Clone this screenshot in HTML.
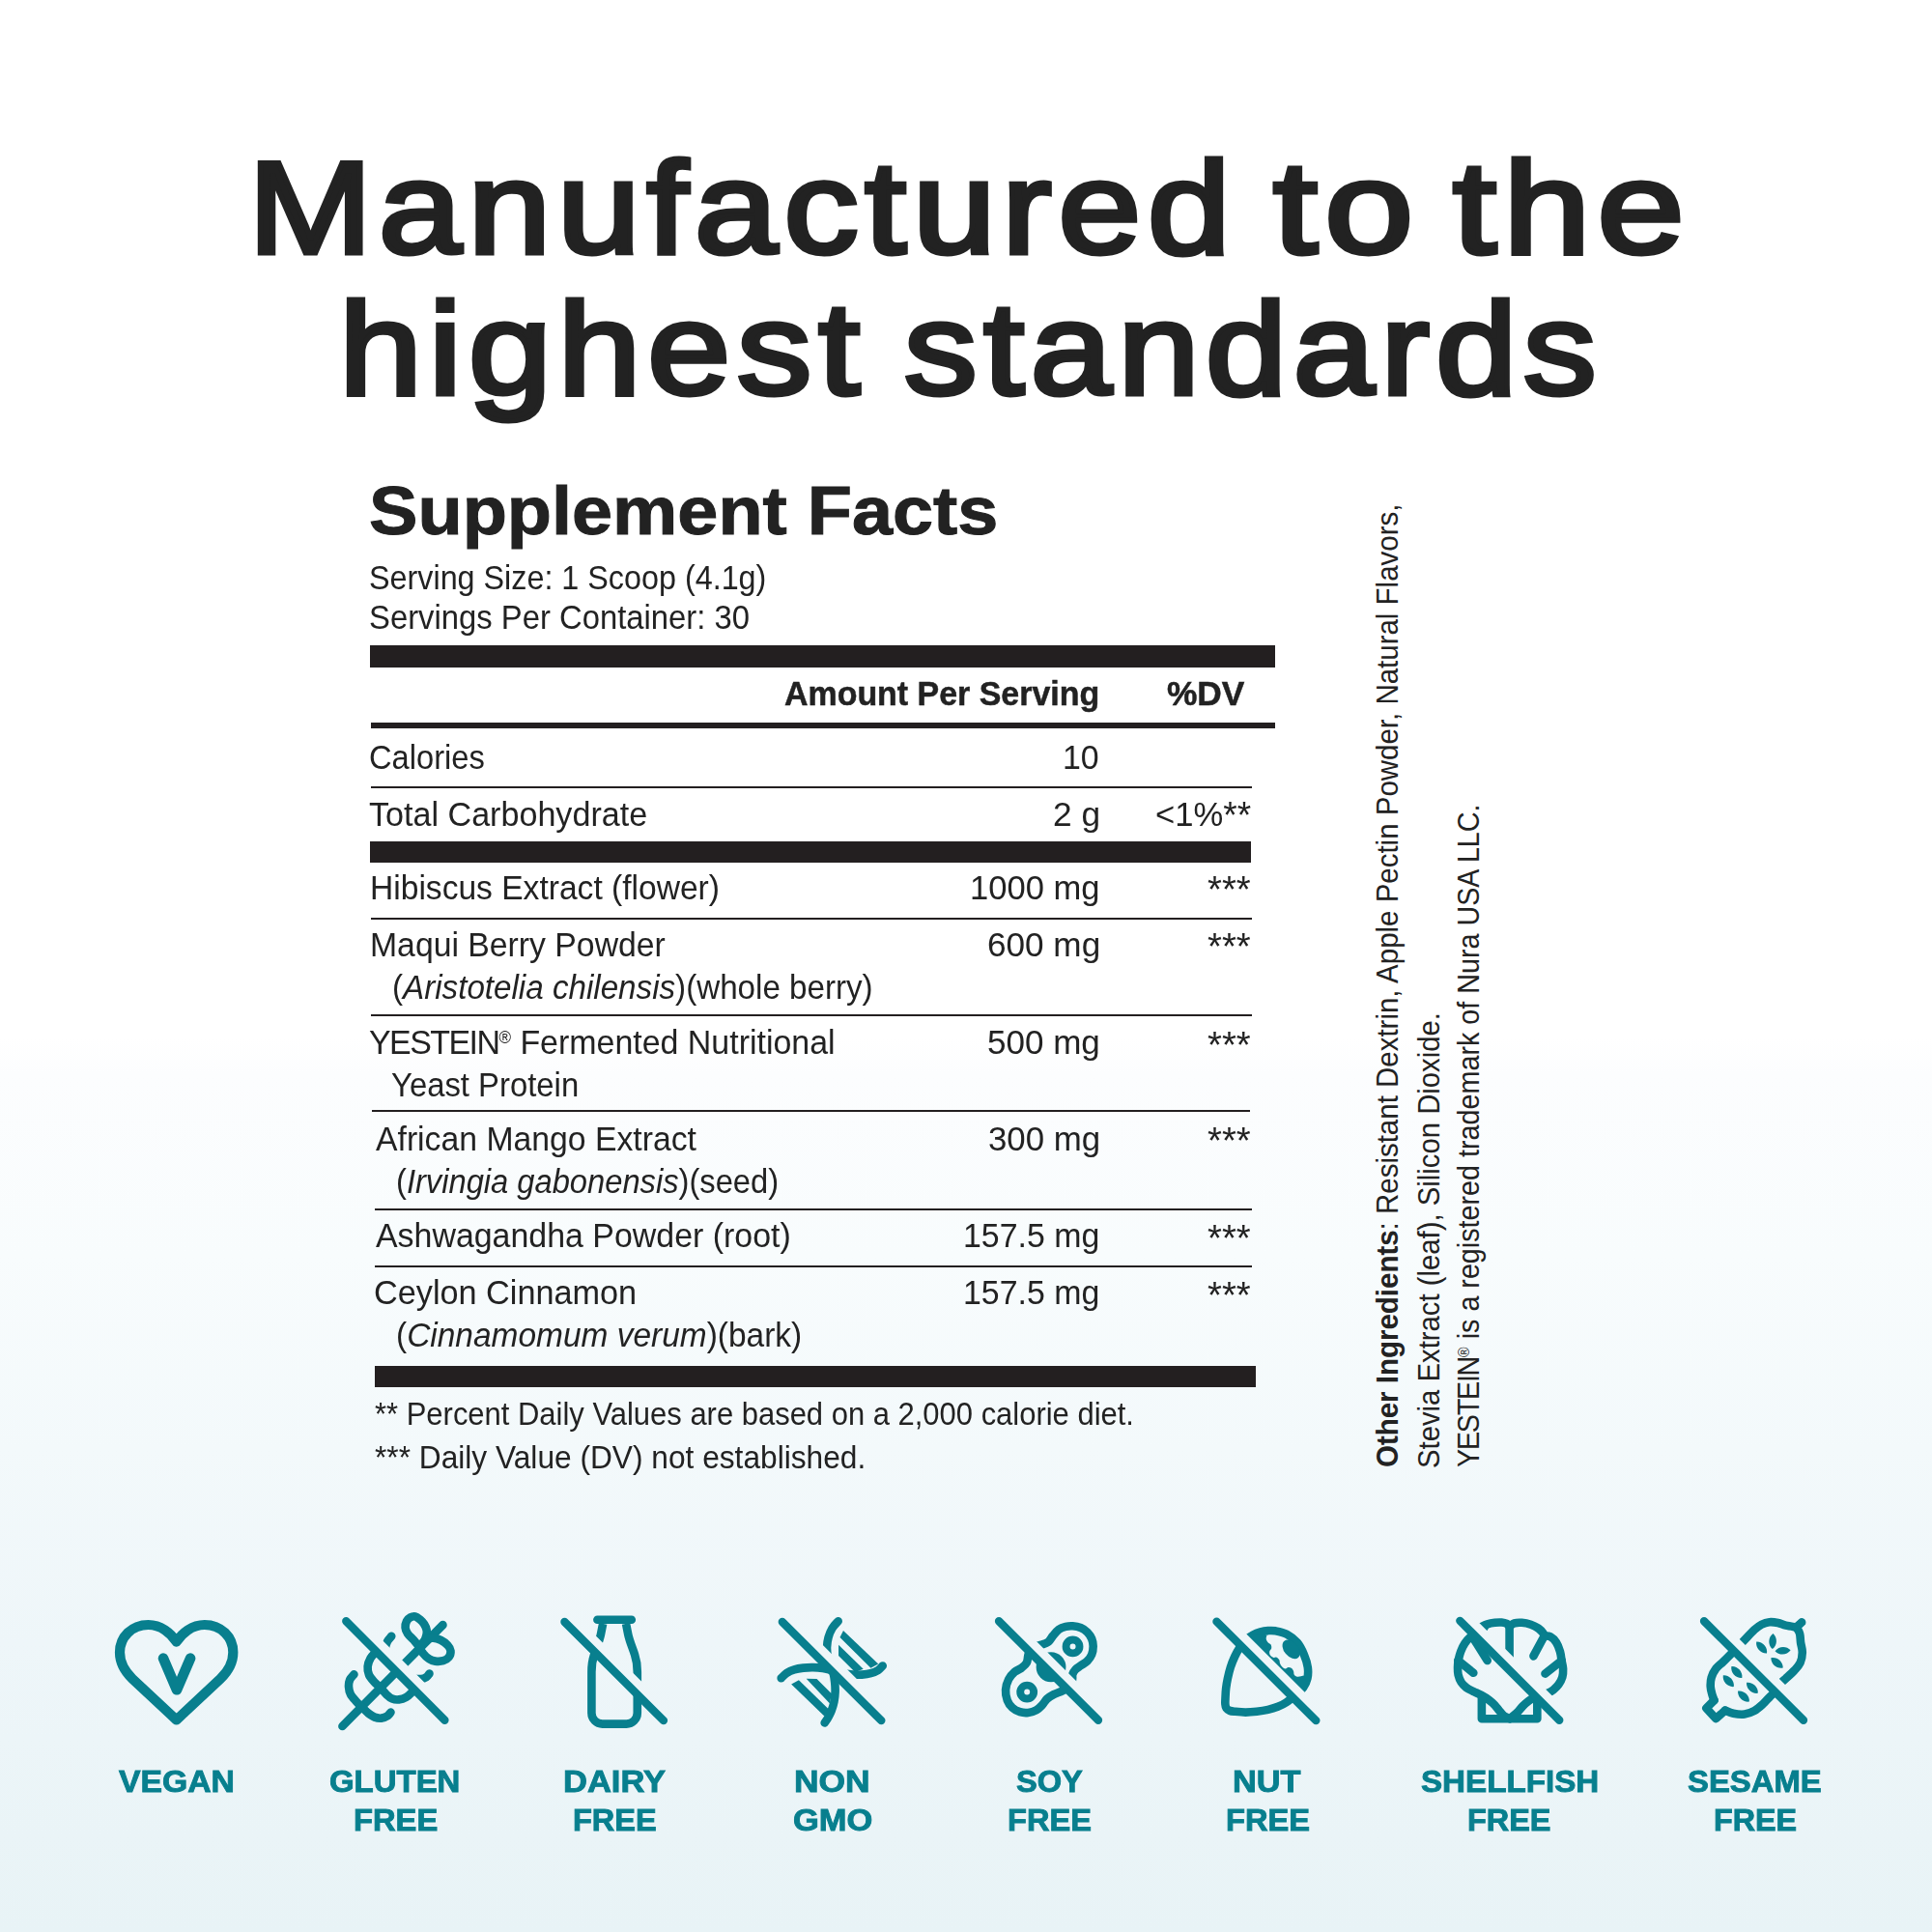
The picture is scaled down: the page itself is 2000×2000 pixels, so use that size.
<!DOCTYPE html>
<html lang="en">
<head>
<meta charset="utf-8">
<title>Manufactured to the highest standards</title>
<style>
html,body{margin:0;padding:0}
body{width:2000px;height:2000px;position:relative;overflow:hidden;
 background:linear-gradient(to bottom,#ffffff 0px,#ffffff 1075px,#fcfdfe 1112px,#f8fcfd 1300px,#f3f9fb 1500px,#eef6f9 1700px,#eaf4f7 1900px,#e8f3f6 2000px);
 font-family:"Liberation Sans",sans-serif;color:#222222}
.t{position:absolute;white-space:nowrap;line-height:1;transform-origin:0 0;font-family:"Liberation Sans",sans-serif}
.b{position:absolute;background:#231f20}
i{font-style:italic}
sup.r{font-size:.5em;vertical-align:baseline;position:relative;top:-.62em;line-height:0}
svg{position:absolute;left:0;top:0}
</style>
</head>
<body>
<!-- rules -->
<div class="b" style="left:383px;top:668.1px;width:937px;height:22.7px"></div>
<div class="b" style="left:383.5px;top:748.3px;width:936.5px;height:6px"></div>
<div class="b" style="left:383.5px;top:813.5px;width:912px;height:2px"></div>
<div class="b" style="left:383px;top:871.1px;width:912.4px;height:21.7px"></div>
<div class="b" style="left:383.5px;top:950px;width:912px;height:2px"></div>
<div class="b" style="left:383.5px;top:1050px;width:912px;height:2px"></div>
<div class="b" style="left:385px;top:1149px;width:909px;height:2.2px"></div>
<div class="b" style="left:388px;top:1250.5px;width:908px;height:2px"></div>
<div class="b" style="left:388px;top:1310px;width:908px;height:2px"></div>
<div class="b" style="left:388px;top:1413.8px;width:911.9px;height:21.9px"></div>
<span class="t" style="left:257.01px;top:146.88px;font-size:136px;-webkit-text-stroke:5px #222;letter-spacing:6px;transform:scaleX(1.1325)">Manufactured</span>
<span class="t" style="left:1318.00px;top:146.88px;font-size:136px;-webkit-text-stroke:5px #222;letter-spacing:6px;transform:scaleX(1.2138)">to</span>
<span class="t" style="left:1503.80px;top:146.88px;font-size:136px;-webkit-text-stroke:5px #222;letter-spacing:6px;transform:scaleX(1.1914)">the</span>
<span class="t" style="left:350.55px;top:293.08px;font-size:136px;-webkit-text-stroke:5px #222;letter-spacing:6px;transform:scaleX(1.1360)">highest</span>
<span class="t" style="left:935.99px;top:293.08px;font-size:136px;-webkit-text-stroke:5px #222;letter-spacing:6px;transform:scaleX(1.1104)">standards</span>
<span class="t" style="left:381.84px;top:493.64px;font-size:70px;font-weight:bold;-webkit-text-stroke:1px #222;transform:scaleX(1.0803)">Supplement Facts</span>
<span class="t" style="left:382.18px;top:581.45px;font-size:35.5px;transform:scaleX(0.9103)">Serving Size: 1 Scoop (4.1g)</span>
<span class="t" style="left:382.15px;top:621.65px;font-size:35.5px;transform:scaleX(0.9243)">Servings Per Container: 30</span>
<span class="t" style="left:812.43px;top:700.07px;font-size:35px;font-weight:bold;-webkit-text-stroke:.5px #222;transform:scaleX(0.9694)">Amount Per Serving</span>
<span class="t" style="left:1208.39px;top:700.07px;font-size:35px;font-weight:bold;-webkit-text-stroke:.5px #222;transform:scaleX(1.0076)">%DV</span>
<span class="t" style="left:382.16px;top:766.65px;font-size:35.5px;transform:scaleX(0.9197)">Calories</span>
<span class="t" style="left:1099.94px;top:766.65px;font-size:35.5px;transform:scaleX(0.9543)">10</span>
<span class="t" style="left:382.24px;top:825.95px;font-size:35.5px;transform:scaleX(0.9607)">Total Carbohydrate</span>
<span class="t" style="left:1089.51px;top:825.95px;font-size:35.5px;transform:scaleX(0.9933)">2 g</span>
<span class="t" style="left:1195.85px;top:826.35px;font-size:35.5px;transform:scaleX(0.9747)">&lt;1%<span style="font-size:38px;position:relative;top:1.8px;line-height:0">**</span></span>
<span class="t" style="left:383.16px;top:902.45px;font-size:35.5px;transform:scaleX(0.9459)">Hibiscus Extract (flower)</span>
<span class="t" style="left:1004.08px;top:901.85px;font-size:35.5px;transform:scaleX(0.9729)">1000 mg</span>
<span class="t" style="left:382.95px;top:960.85px;font-size:35.5px;transform:scaleX(0.9509)">Maqui Berry Powder</span>
<span class="t" style="left:1021.62px;top:960.85px;font-size:35.5px;transform:scaleX(0.9895)">600 mg</span>
<span class="t" style="left:405.73px;top:1005.15px;font-size:35.5px;transform:scaleX(0.9343)">(<i>Aristotelia chilensis</i>)(whole berry)</span>
<span class="t" style="left:382.44px;top:1062.15px;font-size:35.5px;transform:scaleX(0.9556)"><span style="letter-spacing:-1.6px">YESTEIN</span><sup class="r">&reg;</sup> Fermented Nutritional</span>
<span class="t" style="left:1022.03px;top:1062.15px;font-size:35.5px;transform:scaleX(0.9860)">500 mg</span>
<span class="t" style="left:404.57px;top:1105.85px;font-size:35.5px;transform:scaleX(0.9251)">Yeast Protein</span>
<span class="t" style="left:389.10px;top:1161.65px;font-size:35.5px;transform:scaleX(0.9504)">African Mango Extract</span>
<span class="t" style="left:1023.04px;top:1161.65px;font-size:35.5px;transform:scaleX(0.9807)">300 mg</span>
<span class="t" style="left:409.96px;top:1206.15px;font-size:35.5px;transform:scaleX(0.9207)">(<i>Irvingia gabonensis</i>)(seed)</span>
<span class="t" style="left:389.10px;top:1262.15px;font-size:35.5px;transform:scaleX(0.9551)">Ashwagandha Powder (root)</span>
<span class="t" style="left:997.44px;top:1262.15px;font-size:35.5px;transform:scaleX(0.9545)">157.5 mg</span>
<span class="t" style="left:386.57px;top:1321.15px;font-size:35.5px;transform:scaleX(0.9644)">Ceylon Cinnamon</span>
<span class="t" style="left:997.44px;top:1321.15px;font-size:35.5px;transform:scaleX(0.9545)">157.5 mg</span>
<span class="t" style="left:409.91px;top:1365.15px;font-size:35.5px;transform:scaleX(0.9425)">(<i>Cinnamomum verum</i>)(bark)</span>
<span class="t" style="left:1250.19px;top:902.33px;font-size:38px;transform:scaleX(1.0070)">***</span>
<span class="t" style="left:1250.19px;top:961.33px;font-size:38px;transform:scaleX(1.0070)">***</span>
<span class="t" style="left:1250.19px;top:1062.63px;font-size:38px;transform:scaleX(1.0070)">***</span>
<span class="t" style="left:1250.19px;top:1162.13px;font-size:38px;transform:scaleX(1.0070)">***</span>
<span class="t" style="left:1250.19px;top:1262.63px;font-size:38px;transform:scaleX(1.0070)">***</span>
<span class="t" style="left:1250.19px;top:1321.63px;font-size:38px;transform:scaleX(1.0070)">***</span>
<span class="t" style="left:388.16px;top:1447.27px;font-size:33px;transform:scaleX(0.9382)">** Percent Daily Values are based on a 2,000 calorie diet.</span>
<span class="t" style="left:388.14px;top:1491.57px;font-size:33px;transform:scaleX(0.9598)">*** Daily Value (DV) not established.</span>
<span class="t" style="left:1419.91px;top:1518.92px;font-size:32px;transform:rotate(-90deg) scaleX(0.9209)"><b>Other Ingredients</b>: Resistant Dextrin, Apple Pectin Powder, Natural Flavors,</span>
<span class="t" style="left:1462.51px;top:1519.83px;font-size:32px;transform:rotate(-90deg) scaleX(0.9151)">Stevia Extract (leaf), Silicon Dioxide.</span>
<span class="t" style="left:1503.91px;top:1518.90px;font-size:32px;transform:rotate(-90deg) scaleX(0.8975)"><span style="letter-spacing:-1.4px">YESTEIN</span><sup class="r">&reg;</sup> is a registered trademark of Nura USA LLC.</span>
<span class="t" style="left:123.30px;top:1829.14px;font-size:31.5px;font-weight:bold;color:#087f8e;-webkit-text-stroke:.9px #087f8e;transform:scaleX(1.0700)">VEGAN</span>
<span class="t" style="left:341.45px;top:1829.14px;font-size:31.5px;font-weight:bold;color:#087f8e;-webkit-text-stroke:.9px #087f8e;transform:scaleX(1.0457)">GLUTEN</span>
<span class="t" style="left:365.82px;top:1868.74px;font-size:31.5px;font-weight:bold;color:#087f8e;-webkit-text-stroke:.9px #087f8e;transform:scaleX(1.0383)">FREE</span>
<span class="t" style="left:583.11px;top:1829.14px;font-size:31.5px;font-weight:bold;color:#087f8e;-webkit-text-stroke:.9px #087f8e;transform:scaleX(1.0957)">DAIRY</span>
<span class="t" style="left:592.84px;top:1868.74px;font-size:31.5px;font-weight:bold;color:#087f8e;-webkit-text-stroke:.9px #087f8e;transform:scaleX(1.0321)">FREE</span>
<span class="t" style="left:821.95px;top:1829.14px;font-size:31.5px;font-weight:bold;color:#087f8e;-webkit-text-stroke:.9px #087f8e;transform:scaleX(1.1242)">NON</span>
<span class="t" style="left:820.51px;top:1868.74px;font-size:31.5px;font-weight:bold;color:#087f8e;-webkit-text-stroke:.9px #087f8e;transform:scaleX(1.0945)">GMO</span>
<span class="t" style="left:1052.16px;top:1829.14px;font-size:31.5px;font-weight:bold;color:#087f8e;-webkit-text-stroke:.9px #087f8e;transform:scaleX(1.0354)">SOY</span>
<span class="t" style="left:1043.43px;top:1868.74px;font-size:31.5px;font-weight:bold;color:#087f8e;-webkit-text-stroke:.9px #087f8e;transform:scaleX(1.0346)">FREE</span>
<span class="t" style="left:1276.22px;top:1829.14px;font-size:31.5px;font-weight:bold;color:#087f8e;-webkit-text-stroke:.9px #087f8e;transform:scaleX(1.0889)">NUT</span>
<span class="t" style="left:1268.53px;top:1868.74px;font-size:31.5px;font-weight:bold;color:#087f8e;-webkit-text-stroke:.9px #087f8e;transform:scaleX(1.0358)">FREE</span>
<span class="t" style="left:1470.55px;top:1829.14px;font-size:31.5px;font-weight:bold;color:#087f8e;-webkit-text-stroke:.9px #087f8e;transform:scaleX(1.0529)">SHELLFISH</span>
<span class="t" style="left:1519.44px;top:1868.74px;font-size:31.5px;font-weight:bold;color:#087f8e;-webkit-text-stroke:.9px #087f8e;transform:scaleX(1.0296)">FREE</span>
<span class="t" style="left:1746.96px;top:1829.14px;font-size:31.5px;font-weight:bold;color:#087f8e;-webkit-text-stroke:.9px #087f8e;transform:scaleX(1.0427)">SESAME</span>
<span class="t" style="left:1773.65px;top:1868.74px;font-size:31.5px;font-weight:bold;color:#087f8e;-webkit-text-stroke:.9px #087f8e;transform:scaleX(1.0247)">FREE</span>
<svg width="2000" height="2000" viewBox="0 0 2000 2000" fill="none" stroke="#087f8e" stroke-width="8.6" stroke-linecap="round" stroke-linejoin="round"><defs><mask id="m2" maskUnits="userSpaceOnUse" x="325" y="1650" width="170" height="160"><rect x="325" y="1650" width="170" height="160" fill="#fff"/><line x1="358.52" y1="1669.55" x2="469.09" y2="1780.53" stroke="#000" stroke-width="12.6"/></mask><mask id="m3" maskUnits="userSpaceOnUse" x="550" y="1650" width="170" height="160"><rect x="550" y="1650" width="170" height="160" fill="#fff"/><line x1="584.65" y1="1670.32" x2="695.64" y2="1780.89" stroke="#000" stroke-width="12.6"/></mask><mask id="m4" maskUnits="userSpaceOnUse" x="775" y="1650" width="170" height="160"><rect x="775" y="1650" width="170" height="160" fill="#fff"/><line x1="810.04" y1="1670.32" x2="921.03" y2="1780.89" stroke="#000" stroke-width="12.6"/></mask><mask id="m5" maskUnits="userSpaceOnUse" x="1000" y="1650" width="170" height="160"><rect x="1000" y="1650" width="170" height="160" fill="#fff"/><line x1="1034.26" y1="1669.55" x2="1145.64" y2="1780.5" stroke="#000" stroke-width="12.6"/></mask><mask id="m6" maskUnits="userSpaceOnUse" x="1225" y="1650" width="170" height="160"><rect x="1225" y="1650" width="170" height="160" fill="#fff"/><line x1="1259.65" y1="1669.94" x2="1371.03" y2="1780.89" stroke="#000" stroke-width="12.6"/></mask><mask id="m7" maskUnits="userSpaceOnUse" x="1480" y="1650" width="170" height="160"><rect x="1480" y="1650" width="170" height="160" fill="#fff"/><line x1="1511.56" y1="1669.16" x2="1622.92" y2="1780.52" stroke="#000" stroke-width="12.6"/></mask><mask id="m8" maskUnits="userSpaceOnUse" x="1730" y="1650" width="170" height="160"><rect x="1730" y="1650" width="170" height="160" fill="#fff"/><line x1="1764.26" y1="1669.55" x2="1875.64" y2="1780.5" stroke="#000" stroke-width="12.6"/></mask></defs><path d="M182.65 1699.6 C177 1690.5 166.5 1682 153.5 1682 C136.5 1682 124 1694.5 124 1710.5 C124 1722.5 129.5 1730.5 137 1737.8 L182.65 1780.4 L228.3 1737.8 C235.8 1730.5 241.3 1722.5 241.3 1710.5 C241.3 1694.5 228.8 1682 211.8 1682 C198.8 1682 188.3 1690.5 182.65 1699.6Z" stroke-width="10.2"/>
<path d="M169 1716.6L183 1749.3L197.1 1716.6" stroke-width="10.6"/>
<g mask="url(#m2)"><path d="M354.41 1786.94L458.45 1682.13"/><path d="M366.44 1733.37C365.73 1734.28 363.08 1736.67 362.17 1738.8C361.27 1740.94 360.88 1743.66 361.01 1746.18C361.14 1748.7 361.66 1751.42 362.95 1753.94C364.24 1756.47 366.7 1758.99 368.77 1761.32C370.84 1763.65 373.24 1765.85 375.37 1767.92C377.51 1769.99 379.51 1772.12 381.58 1773.74C383.65 1775.36 385.6 1776.81 387.8 1777.62C389.99 1778.44 392.58 1778.83 394.78 1778.63C396.98 1778.44 399.38 1777.47 400.99 1776.46C402.61 1775.45 403.91 1773.22 404.49 1772.58"/><path d="M389.35 1709.69C388.38 1710.85 384.97 1714.09 383.52 1716.68C382.08 1719.27 380.91 1722.37 380.65 1725.22C380.39 1728.06 380.85 1731.11 381.97 1733.76C383.1 1736.41 385.4 1738.87 387.41 1741.13C389.41 1743.4 391.87 1745.14 394.01 1747.34C396.14 1749.54 398.21 1752.46 400.22 1754.33C402.22 1756.21 403.91 1757.76 406.04 1758.6C408.18 1759.44 410.63 1759.64 413.03 1759.38C415.42 1759.12 418.2 1758.28 420.4 1757.05C422.6 1755.82 424.54 1753.69 426.23 1752C427.91 1750.32 429.79 1747.8 430.5 1746.96"/><path d="M405.26 1693.77C404.55 1694.68 402.03 1697.2 400.99 1699.21C399.96 1701.21 399.18 1703.41 399.05 1705.81C398.92 1708.2 399.12 1711.18 400.22 1713.57C401.32 1715.97 403.26 1718.04 405.65 1720.17C408.05 1722.31 411.99 1724.18 414.58 1726.38C417.17 1728.58 418.92 1731.56 421.18 1733.37C423.44 1735.18 425.71 1736.48 428.17 1737.25C430.63 1738.03 433.73 1738.22 435.93 1738.03C438.13 1737.83 439.94 1736.99 441.37 1736.09C442.79 1735.18 443.95 1733.18 444.47 1732.59"/><path d="M434.81 1704.72C433.02 1704.44 430.33 1699.96 428.19 1697.68C426.05 1695.4 423.41 1693.2 421.98 1691.06C420.54 1688.92 419.75 1686.98 419.58 1684.84C419.4 1682.71 420.06 1679.98 420.94 1678.22C421.83 1676.46 423.39 1675.1 424.88 1674.29C426.36 1673.47 428.19 1672.95 429.84 1673.33C431.5 1673.71 433.26 1675.23 434.81 1676.56C436.37 1677.9 438.02 1679.53 439.16 1681.33C440.3 1683.12 441.27 1685.43 441.65 1687.33C442.03 1689.23 441.89 1690.71 441.44 1692.71C440.99 1694.71 440.06 1697.34 438.95 1699.34C437.85 1701.34 436.61 1705 434.81 1704.72Z"/><path d="M434.81 1704.72C434.26 1707.14 436.54 1709.65 438.13 1711.76C439.71 1713.86 442.27 1716.04 444.34 1717.35C446.41 1718.66 448.13 1719.32 450.55 1719.63C452.96 1719.94 456.48 1719.9 458.83 1719.21C461.18 1718.52 463.35 1717.21 464.63 1715.49C465.9 1713.76 466.7 1710.93 466.49 1708.86C466.28 1706.79 465.08 1704.89 463.39 1703.06C461.69 1701.24 458.83 1699.13 456.35 1697.89C453.86 1696.65 450.96 1695.71 448.48 1695.61C445.99 1695.51 443.72 1695.75 441.44 1697.27C439.16 1698.79 435.37 1702.31 434.81 1704.72Z"/></g>
<line x1="358.29" y1="1678.25" x2="460.39" y2="1780.73" stroke-width="8.4"/>
<g mask="url(#m3)"><path d="M624.13 1680.96 L621.96 1691.83 C620.56 1698.82 617.07 1706.58 615.12 1712.8 C613.57 1717.45 612.41 1722.11 612.41 1730.65 L612.41 1773.35 A11.26 11.26 0 0 0 623.66 1784.61 L648.51 1784.61 A11.26 11.26 0 0 0 659.77 1773.35 L659.77 1730.65 C659.77 1722.11 658.6 1717.45 657.05 1712.8 C655.11 1706.58 651.61 1698.82 650.22 1691.83 L648.04 1680.96" stroke-linecap="butt"/><path d="M618.39 1676.69L653.79 1676.69"/></g>
<line x1="584.46" y1="1679.02" x2="686.94" y2="1781.12" stroke-width="8.4"/>
<g mask="url(#m4)"><path d="M872.97 1687.95L909.22 1722.5L901.46 1726.77L869.47 1695.09Z" fill="#087f8e" stroke="none"/><path d="M868.07 1702.7L893.7 1727.7L885.16 1731.04L868.07 1714.11Z" fill="#087f8e" stroke="none"/><path d="M834.69 1737.64L845.56 1738.03L861.09 1753.56L858.76 1763.26Z" fill="#087f8e" stroke="none"/><path d="M826.93 1739.19L858.76 1770.25L853.32 1776.46L819.16 1743.46Z" fill="#087f8e" stroke="none"/><path d="M867.69 1678.25C866.65 1679.47 863.16 1682.84 861.48 1685.62C859.79 1688.4 858.5 1691.7 857.59 1694.94C856.69 1698.17 856.17 1701.8 856.04 1705.03C855.91 1708.27 856.23 1711.24 856.82 1714.35C857.4 1717.45 858.56 1720.69 859.53 1723.66C860.5 1726.64 861.86 1729.23 862.64 1732.2C863.42 1735.18 863.87 1738.29 864.19 1741.52C864.52 1744.76 864.71 1748.25 864.58 1751.61C864.45 1754.98 864.06 1758.47 863.42 1761.71C862.77 1764.94 861.73 1768.31 860.7 1771.02C859.66 1773.74 858.37 1775.94 857.2 1778.01C856.04 1780.08 854.29 1782.54 853.71 1783.45"/><path d="M808.68 1737.25C809.65 1736.35 812.24 1733.3 814.5 1731.82C816.77 1730.33 819.42 1729.19 822.27 1728.32C825.11 1727.46 828.35 1726.98 831.58 1726.61C834.82 1726.25 838.31 1726.1 841.68 1726.15C845.04 1726.2 848.79 1726.5 851.77 1726.93C854.75 1727.35 856.95 1728.03 859.53 1728.71C862.12 1729.4 864.84 1730.39 867.3 1731.04C869.76 1731.69 871.7 1732.17 874.29 1732.59C876.87 1733.02 879.85 1733.43 882.83 1733.6C885.8 1733.77 889.04 1733.84 892.14 1733.6C895.25 1733.37 898.68 1732.96 901.46 1732.2C904.24 1731.45 906.79 1730.39 908.84 1729.1C910.88 1727.81 912.91 1725.22 913.73 1724.44"/></g>
<line x1="809.84" y1="1679.02" x2="912.33" y2="1781.12" stroke-width="8.4"/>
<g mask="url(#m5)"><path d="M1078.32 1702.7C1080.65 1701.93 1083.37 1701.15 1085.31 1699.6C1087.25 1698.04 1088.16 1695.52 1089.97 1693.39C1091.78 1691.25 1093.98 1688.36 1096.18 1686.79C1098.38 1685.21 1100.77 1684.5 1103.17 1683.91C1105.56 1683.33 1107.96 1683.11 1110.54 1683.29C1113.13 1683.47 1116.17 1683.94 1118.7 1685C1121.22 1686.06 1123.77 1687.74 1125.68 1689.66C1127.6 1691.57 1129.19 1694.06 1130.19 1696.49C1131.18 1698.92 1131.66 1701.54 1131.66 1704.25C1131.66 1706.97 1131.18 1710.27 1130.19 1712.8C1129.19 1715.32 1127.6 1717.48 1125.68 1719.39C1123.77 1721.31 1120.77 1722.8 1118.7 1724.29C1116.63 1725.77 1114.66 1726.81 1113.26 1728.32C1111.86 1729.84 1110.83 1731.82 1110.31 1733.37C1109.79 1734.92 1110.38 1736.02 1110.16 1737.64C1109.94 1739.26 1109.9 1741.39 1108.99 1743.07C1108.08 1744.76 1106.47 1746.41 1104.72 1747.73C1102.97 1749.05 1100.84 1749.93 1098.51 1750.99C1096.18 1752.05 1093.2 1752.81 1090.75 1754.1C1088.29 1755.39 1085.7 1756.97 1083.76 1758.76C1081.82 1760.54 1080.91 1762.9 1079.1 1764.81C1077.29 1766.73 1075.35 1768.89 1072.89 1770.25C1070.43 1771.61 1067.19 1772.64 1064.35 1772.97C1061.5 1773.29 1058.52 1773.03 1055.81 1772.19C1053.09 1771.35 1050.22 1769.92 1048.04 1767.92C1045.87 1765.91 1043.93 1763.26 1042.76 1760.16C1041.6 1757.05 1040.82 1752.91 1041.06 1749.29C1041.29 1745.66 1042.61 1741.5 1044.16 1738.42C1045.71 1735.34 1048.17 1732.75 1050.37 1730.81C1052.57 1728.87 1055.29 1728.35 1057.36 1726.77C1059.43 1725.19 1061.63 1723.54 1062.8 1721.34C1063.96 1719.14 1063.77 1715.77 1064.35 1713.57C1064.93 1711.37 1065.12 1709.69 1066.29 1708.14C1067.45 1706.58 1069.33 1705.16 1071.34 1704.25C1073.34 1703.35 1075.99 1703.48 1078.32 1702.7Z"/><circle cx="1110.54" cy="1704.41" r="6.95" stroke-width="7.9"/><circle cx="1063.18" cy="1751.61" r="6.95" stroke-width="7.9"/><circle cx="1088.03" cy="1725.76" r="15.4" fill="#087f8e" stroke="none"/></g>
<line x1="1034.07" y1="1678.25" x2="1136.94" y2="1780.73" stroke-width="8.4"/>
<g mask="url(#m6)"><path d="M1320.4 1688.34C1323.64 1688.96 1328.3 1689.83 1332.05 1691.83C1335.8 1693.84 1339.94 1696.88 1342.92 1700.37C1345.9 1703.87 1348.1 1708.52 1349.91 1712.8C1351.72 1717.07 1353.21 1721.85 1353.79 1725.99C1354.37 1730.13 1354.18 1734.15 1353.4 1737.64C1352.62 1741.13 1351.14 1744.17 1349.13 1746.96C1347.12 1749.74 1344.34 1751.74 1341.37 1754.33C1338.39 1756.92 1334.38 1760.41 1331.27 1762.48C1328.17 1764.55 1325.84 1765.53 1322.73 1766.75C1319.63 1767.98 1316.26 1769.02 1312.64 1769.86C1309.02 1770.7 1304.88 1771.35 1300.99 1771.8C1297.11 1772.25 1293.1 1772.58 1289.35 1772.58C1285.6 1772.58 1281.2 1772.09 1278.48 1771.8C1275.76 1771.52 1274.53 1771.45 1273.04 1770.87C1271.56 1770.29 1270.33 1769.45 1269.55 1768.31C1268.77 1767.17 1268.55 1765.91 1268.39 1764.04C1268.22 1762.16 1268.41 1759.77 1268.54 1757.05C1268.67 1754.33 1268.77 1750.97 1269.16 1747.73C1269.55 1744.5 1270.09 1741.26 1270.87 1737.64C1271.65 1734.02 1272.62 1729.75 1273.82 1725.99C1275.02 1722.24 1276.54 1718.49 1278.09 1715.12C1279.64 1711.76 1281.26 1708.65 1283.14 1705.81C1285.01 1702.96 1287.02 1700.24 1289.35 1698.04C1291.68 1695.84 1294.52 1694.03 1297.11 1692.61C1299.7 1691.19 1302.29 1690.25 1304.88 1689.5C1307.46 1688.75 1310.05 1688.3 1312.64 1688.11C1315.23 1687.91 1317.17 1687.72 1320.4 1688.34Z"/><path d="M1311.48 1693C1311.35 1693.58 1310.5 1695.26 1310.7 1696.49C1310.89 1697.72 1311.8 1699.34 1312.64 1700.37C1313.48 1701.41 1315.16 1701.67 1315.75 1702.7C1316.33 1703.74 1316.39 1705.42 1316.13 1706.58C1315.87 1707.75 1314.39 1708.52 1314.19 1709.69C1314 1710.85 1314.26 1712.54 1314.97 1713.57C1315.68 1714.61 1317.43 1715.58 1318.46 1715.9C1319.5 1716.22 1320.21 1715.12 1321.18 1715.51C1322.15 1715.9 1323.64 1717.13 1324.29 1718.23C1324.93 1719.33 1324.61 1720.95 1325.06 1722.11C1325.52 1723.28 1326.1 1724.31 1327 1725.22C1327.91 1726.12 1329.4 1727.42 1330.5 1727.55C1331.6 1727.68 1332.57 1726.12 1333.6 1725.99C1334.64 1725.86 1335.8 1726.12 1336.71 1726.77C1337.61 1727.42 1338.52 1728.71 1339.04 1729.88C1339.55 1731.04 1339.17 1732.79 1339.81 1733.76C1340.46 1734.73 1341.75 1735.44 1342.92 1735.7C1344.08 1735.96 1345.64 1735.5 1346.8 1735.31C1347.97 1735.12 1349.39 1734.66 1349.91 1734.53L1353.79 1743.85L1343.7 1757.83L1288.57 1703.48L1297.11 1691.83Z" fill="#087f8e" stroke="none"/><ellipse cx="1336.71" cy="1707.36" rx="11.2" ry="7.4" transform="rotate(50 1336.71 1707.36)" fill="#087f8e" stroke="none"/></g>
<line x1="1259.46" y1="1678.63" x2="1362.33" y2="1781.12" stroke-width="8.4"/>
<g mask="url(#m7)"><path d="M1509.57 1719.01C1509.47 1720.17 1509.02 1723.54 1509.02 1725.99C1509.02 1728.45 1508.96 1731.17 1509.57 1733.76C1510.17 1736.35 1511.27 1739.32 1512.67 1741.52C1514.07 1743.72 1515.91 1745.4 1517.95 1746.96C1519.99 1748.51 1522.35 1749.52 1524.94 1750.84C1527.53 1752.16 1530.76 1753.39 1533.48 1754.88C1536.2 1756.36 1538.91 1758.05 1541.24 1759.77C1543.57 1761.49 1545.64 1763.33 1547.45 1765.2C1549.27 1767.08 1550.56 1769.21 1552.11 1771.02C1553.66 1772.84 1554.96 1774.71 1556.77 1776.07C1558.58 1777.43 1561.95 1778.66 1562.98 1779.18"/><path d="M1562.98 1779.18C1564.15 1778.21 1567.77 1775.49 1569.97 1773.35C1572.17 1771.22 1574.11 1768.44 1576.18 1766.37C1578.25 1764.3 1580.45 1762.42 1582.39 1760.93C1584.33 1759.44 1586.01 1758.34 1587.83 1757.44C1589.64 1756.53 1592.36 1755.82 1593.26 1755.5"/><path d="M1509.57 1719.01C1509.99 1717.45 1510.99 1712.67 1512.13 1709.69C1513.27 1706.71 1514.78 1703.61 1516.4 1701.15C1518.02 1698.69 1519.76 1696.88 1521.83 1694.94C1523.9 1693 1526.36 1691.19 1528.82 1689.5C1531.28 1687.82 1535.29 1685.62 1536.58 1684.84"/><path d="M1531.93 1684.84C1533.22 1684.26 1537.1 1682.19 1539.69 1681.35C1542.28 1680.51 1544.99 1680.1 1547.45 1679.8C1549.91 1679.5 1552.37 1679.37 1554.44 1679.57C1556.51 1679.76 1558.52 1680.28 1559.88 1680.96C1561.23 1681.65 1562.14 1683.23 1562.59 1683.68"/><path d="M1562.59 1683.68C1563.43 1683.12 1565.5 1680.99 1567.64 1680.34C1569.77 1679.69 1572.56 1679.57 1575.4 1679.8C1578.25 1680.03 1581.87 1680.77 1584.72 1681.74C1587.57 1682.71 1590.35 1684.13 1592.48 1685.62C1594.62 1687.11 1596.5 1689.35 1597.53 1690.67C1598.57 1691.99 1598.5 1693.06 1598.7 1693.54"/><path d="M1598.7 1693.54C1599.73 1693.67 1602.84 1693.18 1604.91 1694.32C1606.98 1695.46 1609.44 1697.81 1611.12 1700.37C1612.8 1702.93 1614.09 1706.58 1615 1709.69C1615.91 1712.8 1616.29 1717.45 1616.55 1719.01"/><path d="M1616.55 1719.01C1616.81 1720.43 1617.98 1724.7 1618.11 1727.55C1618.23 1730.39 1618.11 1733.37 1617.33 1736.09C1616.55 1738.8 1615 1741.65 1613.45 1743.85C1611.89 1746.05 1609.95 1747.8 1608.01 1749.29C1606.07 1750.77 1603.61 1751.94 1601.8 1752.78C1599.99 1753.62 1597.92 1754.07 1597.14 1754.33"/><path d="M1562.59 1683.68L1562.59 1719.01"/><path d="M1598.7 1693.54L1587.44 1714.35"/><path d="M1616.55 1719.01L1599.47 1732.59"/><path d="M1509.57 1719.01L1525.33 1731.82"/><path d="M1524.16 1694.16L1539.69 1719.01"/><path d="M1533.87 1757.83L1533.87 1779.18L1591.32 1779.18L1591.32 1760.93" stroke-linejoin="round"/></g>
<line x1="1511.35" y1="1677.86" x2="1614.22" y2="1780.73" stroke-width="8.4"/>
<g mask="url(#m8)"><path d="M1859.57 1684.46C1857.75 1684.16 1851.87 1683.41 1848.7 1682.67C1845.53 1681.93 1843.39 1680.6 1840.54 1680.03C1837.7 1679.46 1834.46 1678.97 1831.61 1679.25C1828.77 1679.54 1826.05 1680.42 1823.46 1681.74C1820.87 1683.06 1819.26 1684.26 1816.09 1687.17C1812.92 1690.09 1808.52 1695 1804.44 1699.21C1800.36 1703.41 1795.12 1708.85 1791.63 1712.41C1788.14 1715.97 1786 1718.1 1783.48 1720.56C1780.95 1723.02 1778.46 1724.51 1776.49 1727.16C1774.52 1729.81 1772.63 1733.3 1771.68 1736.48C1770.72 1739.65 1770.62 1743.2 1770.75 1746.18C1770.87 1749.16 1771.82 1752 1772.45 1754.33C1773.09 1756.66 1774.2 1759.18 1774.55 1760.16"/><path d="M1859.57 1684.46C1860.15 1685.56 1862.31 1688.4 1863.06 1691.06C1863.81 1693.71 1863.62 1697.14 1864.07 1700.37C1864.52 1703.61 1865.85 1706.97 1865.78 1710.47C1865.7 1713.96 1865.03 1718.17 1863.6 1721.34C1862.18 1724.51 1859.72 1726.77 1857.24 1729.49C1854.75 1732.2 1851.41 1735.12 1848.7 1737.64C1845.98 1740.16 1842.87 1742.3 1840.93 1744.63C1838.99 1746.96 1838.54 1749.61 1837.05 1751.61C1835.56 1753.62 1834.07 1754.53 1832 1756.66C1829.93 1758.8 1827.28 1762.03 1824.63 1764.43C1821.97 1766.82 1819.19 1769.34 1816.09 1771.02C1812.98 1772.71 1809.62 1774.07 1805.99 1774.52C1802.37 1774.97 1797.71 1774.39 1794.35 1773.74C1790.98 1773.1 1787.23 1771.15 1785.81 1770.64"/><path d="M1859.57 1684.46L1865.16 1679.41"/><path d="M1774.55 1760.16L1766.4 1768.31L1776.34 1779.18L1785.81 1770.64" stroke-linejoin="round"/><path d="M-8.07 0C-4.04 -5.05 4.04 -5.05 8.07 0C4.04 5.05 -4.04 5.05 -8.07 0Z" transform="translate(1823.62 1705.42) rotate(48)" fill="#087f8e" stroke="none"/><path d="M-8.07 0C-4.04 -5.05 4.04 -5.05 8.07 0C4.04 5.05 -4.04 5.05 -8.07 0Z" transform="translate(1835.11 1698.98) rotate(92)" fill="#087f8e" stroke="none"/><path d="M-8.07 0C-4.04 -5.05 4.04 -5.05 8.07 0C4.04 5.05 -4.04 5.05 -8.07 0Z" transform="translate(1845.59 1708.76) rotate(-3)" fill="#087f8e" stroke="none"/><path d="M-8.07 0C-4.04 -5.05 4.04 -5.05 8.07 0C4.04 5.05 -4.04 5.05 -8.07 0Z" transform="translate(1839.53 1721.34) rotate(40)" fill="#087f8e" stroke="none"/><path d="M-8.07 0C-4.04 -5.05 4.04 -5.05 8.07 0C4.04 5.05 -4.04 5.05 -8.07 0Z" transform="translate(1797.84 1731.04) rotate(47)" fill="#087f8e" stroke="none"/><path d="M-8.07 0C-4.04 -5.05 4.04 -5.05 8.07 0C4.04 5.05 -4.04 5.05 -8.07 0Z" transform="translate(1789.3 1740.2) rotate(47)" fill="#087f8e" stroke="none"/><path d="M-8.07 0C-4.04 -5.05 4.04 -5.05 8.07 0C4.04 5.05 -4.04 5.05 -8.07 0Z" transform="translate(1813.91 1747.34) rotate(43)" fill="#087f8e" stroke="none"/><path d="M-8.07 0C-4.04 -5.05 4.04 -5.05 8.07 0C4.04 5.05 -4.04 5.05 -8.07 0Z" transform="translate(1804.98 1756.12) rotate(43)" fill="#087f8e" stroke="none"/></g>
<line x1="1764.07" y1="1678.25" x2="1866.94" y2="1780.73" stroke-width="8.4"/></svg>
</body>
</html>
